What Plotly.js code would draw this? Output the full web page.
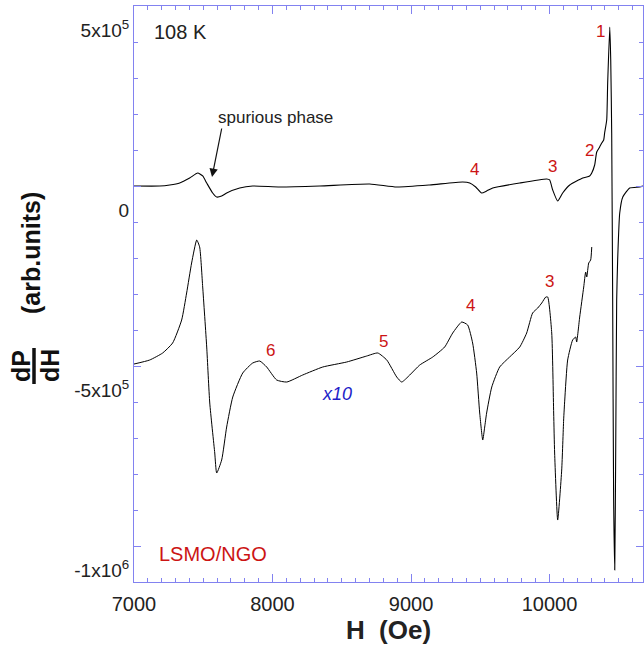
<!DOCTYPE html>
<html>
<head>
<meta charset="utf-8">
<script src="https://cdn.plot.ly/plotly-3.0.1.min.js"></script>
<style>html,body{margin:0;padding:0;background:#fff;}#chart{width:644px;height:654px;}</style>
</head>
<body>
<div id="chart"></div>
<script>
// Upper trace: measured spectrum (field in Oe, dP/dH in arb. units)
var fieldUpper = [7000, 7185, 7258, 7330, 7402, 7460, 7496, 7525, 7568, 7597, 7633, 7669, 7763, 7857, 8052, 8341, 8702, 8897, 9135, 9373, 9424, 9467, 9510, 9546, 9590, 9785, 9980, 10001, 10023, 10059, 10095, 10146, 10240, 10290, 10305, 10326, 10341, 10362, 10377, 10391, 10398, 10413, 10420, 10435, 10442, 10449, 10456, 10463, 10471, 10478, 10485, 10492, 10507, 10529, 10579, 10651, 10680];
var signalUpper = [0, 0, 2800, 8300, 22200, 36100, 27800, 8300, -19400, -30600, -27800, -19400, -5600, 0, -2800, 0, 5600, -2800, 2800, 11100, 8300, -2800, -19400, -13900, -5600, 8300, 19400, 16700, -11100, -41700, -19400, 2800, 22200, 27800, 36100, 58300, 94400, 108300, 119400, 127800, 147200, 183300, 286100, 441700, 350000, 147200, -316700, -872300, -1066700, -733400, -316700, -205600, -75000, -30600, -5600, -2800, 0];

// Lower trace: x10 magnified spectrum, offset
var fieldLower = [7000, 7113, 7207, 7279, 7344, 7380, 7416, 7453, 7474, 7496, 7525, 7547, 7583, 7597, 7633, 7669, 7713, 7785, 7857, 7908, 7958, 8030, 8103, 8218, 8363, 8536, 8680, 8760, 8825, 8897, 8933, 8991, 9063, 9157, 9243, 9301, 9366, 9409, 9445, 9474, 9496, 9518, 9532, 9546, 9583, 9640, 9712, 9785, 9835, 9878, 9915, 9944, 9973, 9987, 10016, 10030, 10037, 10059, 10088, 10102, 10110, 10131, 10167, 10189, 10196, 10218, 10247, 10261, 10269, 10283, 10297, 10305];
var signalLower = [-494500, -483400, -463900, -436100, -372300, -297200, -213900, -150000, -169500, -280600, -447300, -602800, -741700, -797300, -761200, -669500, -586200, -519500, -491700, -486200, -502800, -538900, -544500, -525000, -502800, -488900, -472300, -463900, -483400, -530600, -544500, -525000, -497300, -475000, -447300, -408400, -377800, -386100, -436100, -519500, -630600, -705600, -669500, -630600, -558400, -502800, -475000, -447300, -408400, -352800, -338900, -325000, -308400, -308400, -408400, -630600, -741700, -927900, -788900, -650000, -594500, -483400, -427800, -419500, -433400, -363900, -280600, -238900, -252800, -213900, -205600, -169500];

var xTickVals = [7000, 8000, 9000, 10000];
var xTickText = ['7000', '8000', '9000', '10000'];
var yTickVals = [500000, 0, -500000, -1000000];
var yTickText = ['5x10<sup>5</sup>', '0', '-5x10<sup>5</sup>', '-1x10<sup>6</sup>'];

var peakLabels = ['1', '2', '3', '4', '3', '4', '5', '6'];

// plot-area geometry (pixels) for placing annotations
var L = 134, R = 643, T = 6, B = 582;
function px(x, y) { return {x: (x - L) / (R - L), y: (B - y) / (B - T), xref: 'paper', yref: 'paper', xanchor: 'center', yanchor: 'middle', showarrow: false}; }
var peakPos = [[600, 31], [589, 150], [552, 166], [474, 169], [549, 281], [470, 306], [383, 341], [270, 350]];

var FONT = 'Liberation Sans, Arial, Helvetica, sans-serif';
var AX = '#8282f0';

var annotations = [];
peakLabels.forEach(function (t, i) {
  annotations.push(Object.assign(px(peakPos[i][0], peakPos[i][1]), {text: t,
    font: {family: FONT, size: 17, color: '#cc1414'}}));
});
annotations.push(Object.assign(px(180, 32), {text: '108 K', font: {family: FONT, size: 20, color: '#222'}}));
annotations.push(Object.assign(px(275, 118), {text: 'spurious phase', font: {family: FONT, size: 17, color: '#222'}}));
annotations.push(Object.assign(px(212, 177), {text: '', showarrow: true, ax: 10, ay: -50, arrowhead: 2, arrowsize: 1.4, arrowwidth: 1.2, arrowcolor: '#111'}));
annotations.push(Object.assign(px(337, 394), {text: '<i>x10</i>', font: {family: FONT, size: 18, color: '#1e1ec8'}}));
annotations.push(Object.assign(px(213, 554), {text: 'LSMO/NGO', font: {family: FONT, size: 20, color: '#cc1414'}}));
annotations.push(Object.assign(px(31, 253), {text: '<b>(arb.units)</b>', textangle: -90, font: {family: FONT, size: 25, color: '#111'}}));
annotations.push(Object.assign(px(21, 366), {text: '<b>dP</b>', textangle: -90, font: {family: FONT, size: 25, color: '#111'}}));
annotations.push(Object.assign(px(50, 366), {text: '<b>dH</b>', textangle: -90, font: {family: FONT, size: 25, color: '#111'}}));

var barA = px(34, 348), barB = px(34, 384);
var shapes = [{type: 'line', xref: 'paper', yref: 'paper', x0: barA.x, x1: barB.x, y0: barA.y, y1: barB.y,
  line: {color: '#111', width: 3.5}}];

var traces = [
  {x: fieldUpper, y: signalUpper, type: 'scatter', mode: 'lines', line: {color: '#000', width: 1.1, shape: 'spline', smoothing: 0.5}, hoverinfo: 'none', showlegend: false},
  {x: fieldLower, y: signalLower, type: 'scatter', mode: 'lines', line: {color: '#000', width: 1.0, shape: 'spline', smoothing: 0.5}, hoverinfo: 'none', showlegend: false}
];

var layout = {
  width: 644, height: 654,
  margin: {l: L, r: 644 - R, t: T, b: 654 - B},
  paper_bgcolor: '#fff', plot_bgcolor: '#fff',
  font: {family: FONT, color: '#222'},
  showlegend: false,
  xaxis: {
    range: [7000, 10675], tickmode: 'array', tickvals: xTickVals, ticktext: xTickText,
    ticks: 'inside', ticklen: 8, tickwidth: 1, tickcolor: AX,
    showline: true, linecolor: AX, linewidth: 1, mirror: 'ticks',
    showgrid: false, zeroline: false,
    tickfont: {family: FONT, size: 20, color: '#222'},
    ticklabelstandoff: 4,
    minor: {tickmode: 'linear', tick0: 7000, dtick: 100, ticks: 'inside', ticklen: 4, tickcolor: AX, showgrid: false},
    title: {text: '<b>H\u00a0 (Oe)</b>', font: {family: FONT, size: 26, color: '#222'}, standoff: 4},
    automargin: false
  },
  yaxis: {
    range: [-1100000, 500000], tickmode: 'array', tickvals: yTickVals, ticktext: yTickText,
    ticks: 'inside', ticklen: 7, tickwidth: 1, tickcolor: AX,
    showline: true, linecolor: AX, linewidth: 1, mirror: 'ticks',
    showgrid: false, zeroline: false,
    tickfont: {family: FONT, size: 19, color: '#222'},
    ticklabelshift: 24,
    minor: {tickmode: 'linear', tick0: 0, dtick: 100000, ticks: 'inside', ticklen: 4, tickcolor: AX, showgrid: false},
    automargin: false
  },
  annotations: annotations,
  shapes: shapes
};

Plotly.newPlot('chart', traces, layout, {staticPlot: true, displayModeBar: false});
</script>
</body>
</html>
